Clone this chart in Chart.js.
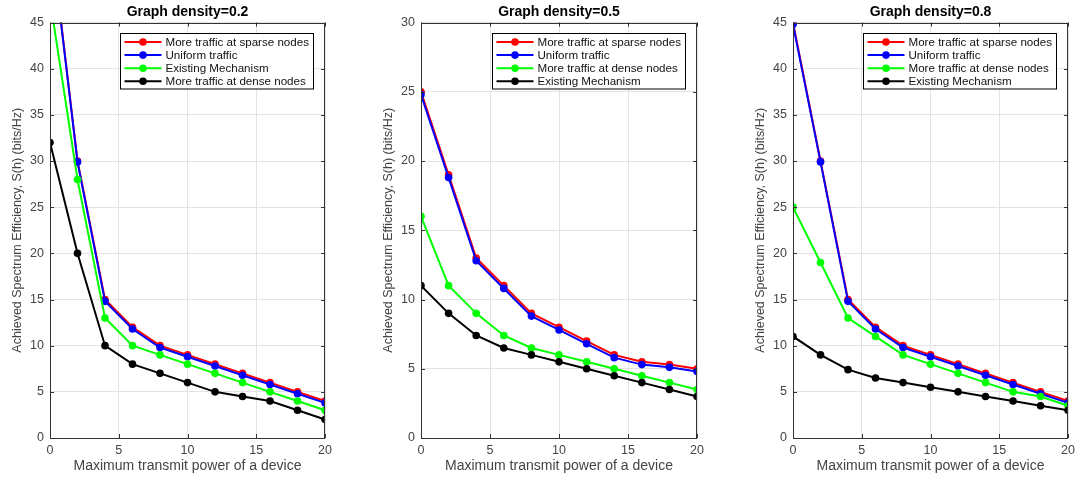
<!DOCTYPE html>
<html>
<head>
<meta charset="utf-8">
<script src="https://cdn.jsdelivr.net/npm/chart.js@4.4.0/dist/chart.umd.min.js"></script>
<style>
  body { margin: 0; background: #fff; width: 1083px; height: 479px; overflow: hidden; position: relative; }
  canvas { position: absolute; top: 0; }
</style>
</head>
<body>
<canvas id="c1"></canvas>
<canvas id="c2"></canvas>
<canvas id="c3"></canvas>
<script>
// x values: maximum transmit power
const power = [0, 2, 4, 6, 8, 10, 12, 14, 16, 18, 20];

// Graph density = 0.2
const sparse02   = [55.2, 30, 15, 12, 10, 9, 8, 7, 6, 5, 4];
const uniform02  = [55, 29.9, 14.8, 11.8, 9.8, 8.8, 7.8, 6.8, 5.8, 4.8, 3.8];
const existing02 = [47.5, 28, 13, 10, 9, 8, 7, 6, 5, 4, 3];
const dense02    = [32, 20, 10, 8, 7, 6, 5, 4.5, 4, 3, 2];

// Graph density = 0.5
const sparse05   = [25, 19, 13, 11, 9, 8, 7, 6, 5.5, 5.3, 5];
const uniform05  = [24.8, 18.8, 12.8, 10.8, 8.8, 7.8, 6.8, 5.8, 5.3, 5.1, 4.8];
const dense05    = [16, 11, 9, 7.4, 6.5, 6, 5.5, 5, 4.5, 4, 3.5];
const existing05 = [11, 9, 7.4, 6.5, 6, 5.5, 5, 4.5, 4, 3.5, 3];

// Graph density = 0.8
const sparse08   = [45, 30, 15, 12, 10, 9, 8, 7, 6, 5, 4];
const uniform08  = [44.8, 29.9, 14.8, 11.8, 9.8, 8.8, 7.8, 6.8, 5.8, 4.8, 3.8];
const dense08    = [25, 19, 13, 11, 9, 8, 7, 6, 5, 4.5, 3.5];
const existing08 = [11, 9, 7.4, 6.5, 6, 5.5, 5, 4.5, 4, 3.5, 3];

const titles = ['Graph density=0.2', 'Graph density=0.5', 'Graph density=0.8'];
const yMax = [45, 30, 45];
const xTitle = 'Maximum transmit power of a device';
const yTitle = 'Achieved Spectrum Efficiency, S(h) (bits/Hz)';

const RED = '#ff0000', BLUE = '#0000ff', GREEN = '#00ff00', BLACK = '#000000';
const FONT = '"Liberation Sans", Arial, Helvetica, sans-serif';
const AXIS = '#333333';
const LABEL = '#444444';

// MATLAB-like box, inward ticks, title, axis labels and legend
const decor = {
  id: 'decor',
  afterDatasetsDraw(chart, args, opts) {
    const { ctx, chartArea: a, scales: { x, y } } = chart;
    ctx.save();
    ctx.strokeStyle = AXIS;
    ctx.lineWidth = 1;
    ctx.beginPath();
    x.ticks.forEach(t => {
      const px = Math.round(x.getPixelForValue(t.value)) + 0.5;
      ctx.moveTo(px, a.bottom); ctx.lineTo(px, a.bottom - 4);
      ctx.moveTo(px, a.top); ctx.lineTo(px, a.top + 4);
    });
    y.ticks.forEach(t => {
      const py = Math.round(y.getPixelForValue(t.value)) + 0.5;
      ctx.moveTo(a.left, py); ctx.lineTo(a.left + 4, py);
      ctx.moveTo(a.right, py); ctx.lineTo(a.right - 4, py);
    });
    ctx.stroke();
    ctx.strokeRect(Math.round(a.left) + 0.5, Math.round(a.top) + 0.5,
                   Math.round(a.width) - 1, Math.round(a.height) - 1);

    // title
    const cx = (a.left + a.right) / 2;
    ctx.fillStyle = '#000';
    ctx.textAlign = 'center';
    ctx.textBaseline = 'middle';
    ctx.font = 'bold 14px ' + FONT;
    ctx.fillText(opts.title, cx, 12);

    // axis titles
    ctx.fillStyle = LABEL;
    ctx.font = '14px ' + FONT;
    ctx.fillText(xTitle, cx, 466.5);
    ctx.save();
    ctx.translate(a.left - 32, (a.top + a.bottom) / 2);
    ctx.rotate(-Math.PI / 2);
    ctx.font = '12.5px ' + FONT;
    ctx.fillText(yTitle, 0, 0);
    ctx.restore();

    // legend
    const bw = 193, bh = 55.5;
    const bx = Math.round(a.right - 12.5 - bw) + 0.5;
    const by = Math.round(a.top + 10) + 0.5;
    ctx.fillStyle = '#fff';
    ctx.fillRect(bx, by, bw, bh);
    ctx.strokeStyle = '#000';
    ctx.strokeRect(bx, by, bw, bh);
    ctx.font = '11.6px ' + FONT;
    ctx.textAlign = 'left';
    chart.data.datasets.forEach((ds, i) => {
      const ry = by + 8.5 + i * 13.1;
      ctx.strokeStyle = ds.borderColor;
      ctx.lineWidth = 2;
      ctx.beginPath();
      ctx.moveTo(bx + 4, ry); ctx.lineTo(bx + 41, ry);
      ctx.stroke();
      ctx.fillStyle = ds.borderColor;
      ctx.beginPath();
      ctx.arc(bx + 22.5, ry, 3.8, 0, Math.PI * 2);
      ctx.fill();
      ctx.fillStyle = '#111';
      ctx.fillText(ds.label, bx + 45, ry + 0.5);
    });
    ctx.restore();
  }
};

function series(label, vals, color, order) {
  return {
    label,
    data: power.map((p, i) => ({ x: p, y: vals[i] })),
    borderColor: color,
    backgroundColor: color,
    borderWidth: 2,
    pointRadius: 3.8,
    pointBorderWidth: 0,
    pointBackgroundColor: color,
    tension: 0,
    order
  };
}

function makeChart(id, areaLeft, areaRight, title, ymax, sets) {
  const cv = document.getElementById(id);
  const w = 50 + (areaRight - areaLeft) + 6;
  cv.width = w; cv.height = 479;
  cv.style.left = (areaLeft - 50) + 'px';
  cv.style.width = w + 'px'; cv.style.height = '479px';
  new Chart(cv, {
    type: 'line',
    data: { datasets: sets },
    options: {
      responsive: false,
      animation: false,
      layout: { padding: { top: 22.5, right: 6, bottom: 0, left: 0 } },
      plugins: { legend: { display: false }, tooltip: { enabled: false }, decor: { title } },
      scales: {
        x: {
          type: 'linear', min: 0, max: 20,
          ticks: { stepSize: 5, color: LABEL, padding: 5, font: { family: FONT, size: 12.5 }, maxRotation: 0 },
          grid: { color: '#e3e3e3', drawTicks: false },
          border: { display: false },
          afterFit: s => { s.height = 41; }
        },
        y: {
          min: 0, max: ymax,
          ticks: { stepSize: 5, color: LABEL, padding: 6, font: { family: FONT, size: 12.5 } },
          grid: { color: '#e3e3e3', drawTicks: false },
          border: { display: false },
          afterFit: s => { s.width = 50; }
        }
      }
    },
    plugins: [decor]
  });
}

makeChart('c1', 50, 331, titles[0], yMax[0], [
  series('More traffic at sparse nodes', sparse02, RED, 3),
  series('Uniform traffic', uniform02, BLUE, 2),
  series('Existing Mechanism', existing02, GREEN, 1),
  series('More traffic at dense nodes', dense02, BLACK, 0)
]);
makeChart('c2', 421, 703, titles[1], yMax[1], [
  series('More traffic at sparse nodes', sparse05, RED, 3),
  series('Uniform traffic', uniform05, BLUE, 2),
  series('More traffic at dense nodes', dense05, GREEN, 1),
  series('Existing Mechanism', existing05, BLACK, 0)
]);
makeChart('c3', 793, 1074, titles[2], yMax[2], [
  series('More traffic at sparse nodes', sparse08, RED, 3),
  series('Uniform traffic', uniform08, BLUE, 2),
  series('More traffic at dense nodes', dense08, GREEN, 1),
  series('Existing Mechanism', existing08, BLACK, 0)
]);
</script>
</body>
</html>
